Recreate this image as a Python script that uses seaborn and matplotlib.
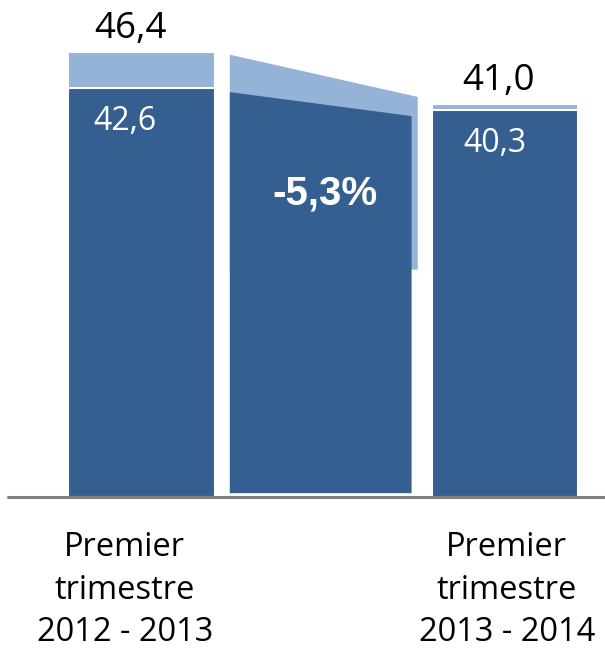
import numpy as np
import pandas as pd
import seaborn as sns
import matplotlib.pyplot as plt
import matplotlib.patheffects as pe

# -----------------------------
# données
# -----------------------------
periods = ["Premier\ntrimestre\n2012 - 2013", "Premier\ntrimestre\n2013 - 2014"]
totals = [46.4, 41.0]
base_values = [42.6, 40.3]
change_label = "-5,3%"

dark = "#365F91"
light = "#95B3D7"

df = pd.DataFrame({"period": periods, "total": totals, "base": base_values})

sns.set_style("white")
plt.rcParams["font.family"] = ["Open Sans", "DejaVu Sans"]

fig = plt.figure(figsize=(6.05, 6.48), dpi=100)
ax = fig.add_axes([0, 151 / 648, 1, 497 / 648])

bar_w = 0.404
sns.barplot(data=df, x="period", y="total", color=light, width=bar_w,
            edgecolor="white", linewidth=1.5, saturation=1, ax=ax, zorder=2)
# légère ombre autour des barres
for p in ax.patches:
    p.set_path_effects([pe.SimplePatchShadow(offset=(0, -1.5), shadow_rgbFace="#000000", alpha=0.12),
                        pe.Normal()])
sns.barplot(data=df, x="period", y="base", color=dark, width=bar_w,
            edgecolor="white", linewidth=1.5, saturation=1, ax=ax, zorder=3)

# -----------------------------
# forme de liaison (variation)
# -----------------------------
xl, xr_light, xr_dark = 0.243, 0.760, 0.743
ax.fill([xl, xr_light, xr_light, xl],
        [totals[0] - 0.3, totals[1] + 0.7, totals[1] - 17.3, totals[1] - 17.3],
        color=light, lw=0, zorder=1)
ax.fill([xl, xr_dark, xr_dark, xl],
        [base_values[0] - 0.4, base_values[1] - 0.6, 0.4, 0.4],
        color=dark, lw=0, zorder=1.5)
ax.text(0.505, 30.45, change_label, color="white", fontsize=29, fontweight="bold",
        family=["Liberation Sans", "DejaVu Sans"], ha="center", va="baseline", zorder=4)

# -----------------------------
# étiquettes
# -----------------------------
top_dx = [-0.03, -0.017]
in_dx = [-0.044, -0.028]
cat_dx = [-0.046, 0.005]
for i in range(len(periods)):
    ax.text(i + top_dx[i], totals[i] + 1.4, f"{totals[i]:.1f}".replace(".", ","),
            ha="center", va="baseline", fontsize=26.5, color="black", clip_on=False)
    ax.text(i + in_dx[i], base_values[i] - 4.3, f"{base_values[i]:.1f}".replace(".", ","),
            ha="center", va="baseline", fontsize=23, color="white", zorder=4)
    for k, line in enumerate(periods[i].split("\n")):
        ax.text(i + cat_dx[i], -6.15 - 4.43 * k, line, ha="center", va="baseline",
                fontsize=23.5, color="black", clip_on=False)

ax.set_xlim(-0.389, 1.275)
ax.set_ylim(0, 51.8)
ax.axhline(0, xmin=0.013, xmax=1, color="#808080", lw=2.2, zorder=5, clip_on=False)

ax.set_xlabel("")
ax.set_ylabel("")
ax.set_yticks([])
ax.set_xticks([])
sns.despine(ax=ax, left=True, bottom=True)

fig.savefig("out.png", dpi=100)
